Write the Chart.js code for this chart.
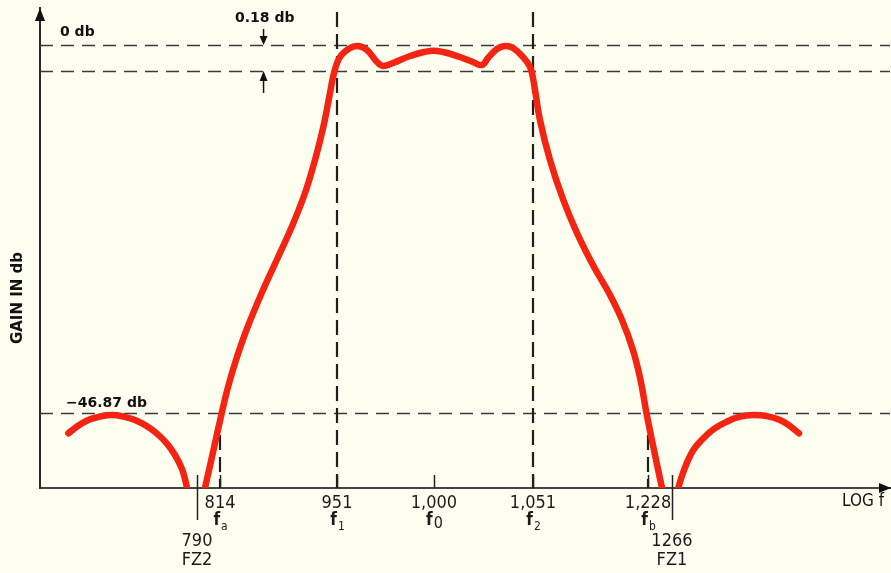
<!DOCTYPE html>
<html><head><meta charset="utf-8">
<script src="https://cdn.jsdelivr.net/npm/chart.js@4/dist/chart.umd.min.js"></script>
<style>html,body{margin:0;padding:0;background:#fefef0;}#wrap{width:891px;height:573px;}</style>
</head><body><div id="wrap"><canvas id="c" width="891" height="573"></canvas></div>
<script>
// ---- data (schematic axis: x in relative log-f units 0..100, y in schematic dB) ----
const tickFreqLabels = ['790', '814', '951', '1,000', '1,051', '1,228', '1266'];
const tickNames      = ['FZ2', '', '', '', '', '', 'FZ1'];
const tickSymbolSubs = ['', 'a', '1', '0', '2', 'b', ''];
const tickPos        = [18.47, 21.18, 34.94, 46.35, 58.0, 71.53, 74.35];
const refLevels      = [0, -3.31, -46.87];   // 0 db, 0.18 db ripple (exaggerated), stopband
const refLabels      = ['0 db', '0.18 db', '-46.87 db'];

const leftLobeX = [3.33, 4.32, 5.49, 6.67, 7.85, 9.02, 10.2, 11.38, 12.55, 13.73, 14.91, 15.88, 16.67, 17.06, 17.29];
const leftLobeY = [-49.46, -48.62, -47.85, -47.42, -47.15, -47.15, -47.42, -47.85, -48.53, -49.46, -50.73, -52.22, -53.92, -55.28, -56.42];

const mainX = [19.41, 20.41, 21.38, 22.12, 23.06, 24.29, 26.08, 27.85, 29.61, 31.18, 32.35, 33.33, 34.12, 34.59, 35.29, 36.47, 37.41, 38.47, 39.65, 40.35, 41.53, 43.53, 45.88, 47.41, 49.41, 50.94, 52.0, 52.71, 53.76, 54.71, 55.65, 56.82, 57.65, 58.04, 58.82, 60.0, 61.56, 63.18, 65.18, 66.94, 68.47, 69.76, 70.65, 71.35, 72.55, 73.18];
const mainY = [-56.42, -51.59, -46.87, -43.56, -40.12, -36.30, -31.59, -27.38, -23.18, -18.85, -14.65, -10.44, -6.11, -3.57, -1.53, -0.38, -0.13, -0.64, -2.17, -2.67, -2.29, -1.40, -0.76, -0.89, -1.53, -2.17, -2.55, -1.66, -0.51, -0.13, -0.38, -1.53, -2.80, -4.46, -9.55, -14.65, -19.74, -23.95, -28.28, -31.59, -35.03, -38.85, -42.67, -46.87, -53.24, -56.42];

const rightLobeX = [75.09, 75.49, 76.08, 76.86, 77.85, 79.21, 80.79, 82.35, 83.92, 85.49, 87.06, 88.24, 89.29];
const rightLobeY = [-56.42, -54.99, -53.28, -51.59, -50.31, -48.95, -47.98, -47.34, -47.13, -47.26, -47.76, -48.53, -49.46];

const X_MIN = 0, X_MAX = 100, Y_MIN = -56.42, Y_MAX = 4.71;

// ---- styling ----
const RED = 'rgb(244,36,18)';
const INK = '#2a2a2a';
const TICK_FONT = '"DejaVu Sans Condensed", "DejaVu Sans", sans-serif';

const pts = (xs, ys) => xs.map((x, i) => ({x, y: ys[i]}));
const curveStyle = {showLine: true, borderColor: RED, borderWidth: 6.5, pointRadius: 0,
  tension: 0.4, borderCapStyle: 'round', borderJoinStyle: 'round', fill: false};

const tickLabels = tickFreqLabels.map((f, i) => tickNames[i] ? ['', '', f, tickNames[i]] : [f, '']);

const decor = {
  id: 'decor',
  beforeDatasetsDraw(chart) {
    const {ctx, chartArea: a, scales: {x, y}} = chart;
    ctx.save();
    ctx.strokeStyle = '#3a3a3a'; ctx.lineWidth = 1.6; ctx.setLineDash([13, 8]);
    refLevels.forEach(v => {
      const py = Math.round(y.getPixelForValue(v)) + 0.5;
      ctx.beginPath(); ctx.moveTo(a.left, py); ctx.lineTo(a.right, py); ctx.stroke();
    });
    ctx.strokeStyle = '#1e1e1e'; ctx.lineWidth = 2.2; ctx.setLineDash([15, 7]);
    const stopPy = y.getPixelForValue(refLevels[2]);
    [[2, a.top + 4], [4, a.top + 4], [1, stopPy], [5, stopPy]].forEach(([i, top]) => {
      const px = Math.round(x.getPixelForValue(tickPos[i]));
      ctx.beginPath(); ctx.moveTo(px, top); ctx.lineTo(px, a.bottom); ctx.stroke();
    });
    ctx.restore();
  },
  afterDraw(chart) {
    const {ctx, chartArea: a, scales: {x, y}} = chart;
    ctx.save();
    ctx.fillStyle = '#111'; ctx.strokeStyle = '#222';
    ctx.beginPath(); ctx.moveTo(a.right + 1, a.bottom); ctx.lineTo(a.right - 11, a.bottom - 5); ctx.lineTo(a.right - 11, a.bottom + 5); ctx.closePath(); ctx.fill();
    ctx.beginPath(); ctx.moveTo(a.left, a.top); ctx.lineTo(a.left - 5, a.top + 13); ctx.lineTo(a.left + 5, a.top + 13); ctx.closePath(); ctx.fill();
    ctx.lineWidth = 1.5; ctx.setLineDash([]);
    tickPos.forEach((v, i) => {
      const px = Math.round(x.getPixelForValue(v)) + 0.5;
      const low = tickNames[i] ? a.bottom + 32 : a.bottom;
      ctx.beginPath(); ctx.moveTo(px, a.bottom - 13); ctx.lineTo(px, low); ctx.stroke();
    });
    ctx.fillStyle = '#1a1a1a'; ctx.textBaseline = 'alphabetic';
    const fFont = 'bold 17px ' + TICK_FONT;
    tickPos.forEach((v, i) => {
      const sub = tickSymbolSubs[i];
      if (!sub) return;
      const px = x.getPixelForValue(v);
      const subFont = (sub === '0' ? 16 : 12) + 'px ' + TICK_FONT;
      ctx.font = fFont;
      const wf = ctx.measureText('f').width;
      ctx.font = subFont;
      const ws = ctx.measureText(sub).width;
      const x0 = px - (wf + ws) / 2;
      ctx.font = fFont;
      ctx.fillText('f', x0, 525);
      ctx.font = subFont;
      ctx.fillText(sub, x0 + wf + 1, sub === '0' ? 528 : 530);
    });
    const ax = x.getPixelForValue(26.3);
    const p0 = y.getPixelForValue(refLevels[0]), p1 = y.getPixelForValue(refLevels[1]);
    ctx.lineWidth = 1.5; ctx.strokeStyle = '#111'; ctx.fillStyle = '#111';
    ctx.beginPath(); ctx.moveTo(ax, p0 - 16); ctx.lineTo(ax, p0 - 6); ctx.stroke();
    ctx.beginPath(); ctx.moveTo(ax, p0); ctx.lineTo(ax - 4, p0 - 9); ctx.lineTo(ax + 4, p0 - 9); ctx.closePath(); ctx.fill();
    ctx.beginPath(); ctx.moveTo(ax, p1 + 22); ctx.lineTo(ax, p1 + 6); ctx.stroke();
    ctx.beginPath(); ctx.moveTo(ax, p1); ctx.lineTo(ax - 4, p1 + 10); ctx.lineTo(ax + 4, p1 + 10); ctx.closePath(); ctx.fill();
    ctx.font = 'bold 14px "DejaVu Sans", sans-serif'; ctx.textBaseline = 'middle'; ctx.textAlign = 'left';
    ctx.fillText(refLabels[0], 60, p0 - 13);
    ctx.fillText(refLabels[1], 235, p0 - 27);
    ctx.fillText(refLabels[2].replace('-', '\u2212'), 66, y.getPixelForValue(refLevels[2]) - 10);
    ctx.font = '17px ' + TICK_FONT;
    ctx.fillText('LOG f', 842, 502);
    ctx.save();
    ctx.translate(18, 298); ctx.rotate(-Math.PI / 2);
    ctx.font = 'bold 15px "DejaVu Sans", sans-serif'; ctx.textAlign = 'center';
    ctx.fillText('GAIN IN db', 0, 0);
    ctx.restore();
    ctx.restore();
  }
};

new Chart(document.getElementById('c'), {
  type: 'scatter',
  data: {datasets: [
    Object.assign({data: pts(leftLobeX, leftLobeY)}, curveStyle),
    Object.assign({data: pts(mainX, mainY)}, curveStyle),
    Object.assign({data: pts(rightLobeX, rightLobeY)}, curveStyle)
  ]},
  options: {
    responsive: false, animation: false, devicePixelRatio: 1,
    layout: {padding: {top: 8, right: 1, left: 0, bottom: 0}},
    plugins: {legend: {display: false}, tooltip: {enabled: false}},
    scales: {
      x: {
        type: 'linear', min: X_MIN, max: X_MAX,
        afterBuildTicks: s => { s.ticks = tickPos.map(v => ({value: v})); },
        afterFit: s => { s.height = 85; },
        ticks: {autoSkip: false, maxRotation: 0, padding: 6, color: '#1a1a1a',
          font: {family: TICK_FONT, size: 18, lineHeight: '19px'},
          callback: (v, i) => tickLabels[i]},
        grid: {display: false, drawTicks: false},
        border: {display: true, color: '#444', width: 2}
      },
      y: {
        type: 'linear', min: Y_MIN, max: Y_MAX,
        afterFit: s => { s.width = 40; },
        ticks: {display: false},
        grid: {display: false, drawTicks: false},
        border: {display: true, color: INK, width: 2}
      }
    }
  },
  plugins: [decor]
});
</script></body></html>
